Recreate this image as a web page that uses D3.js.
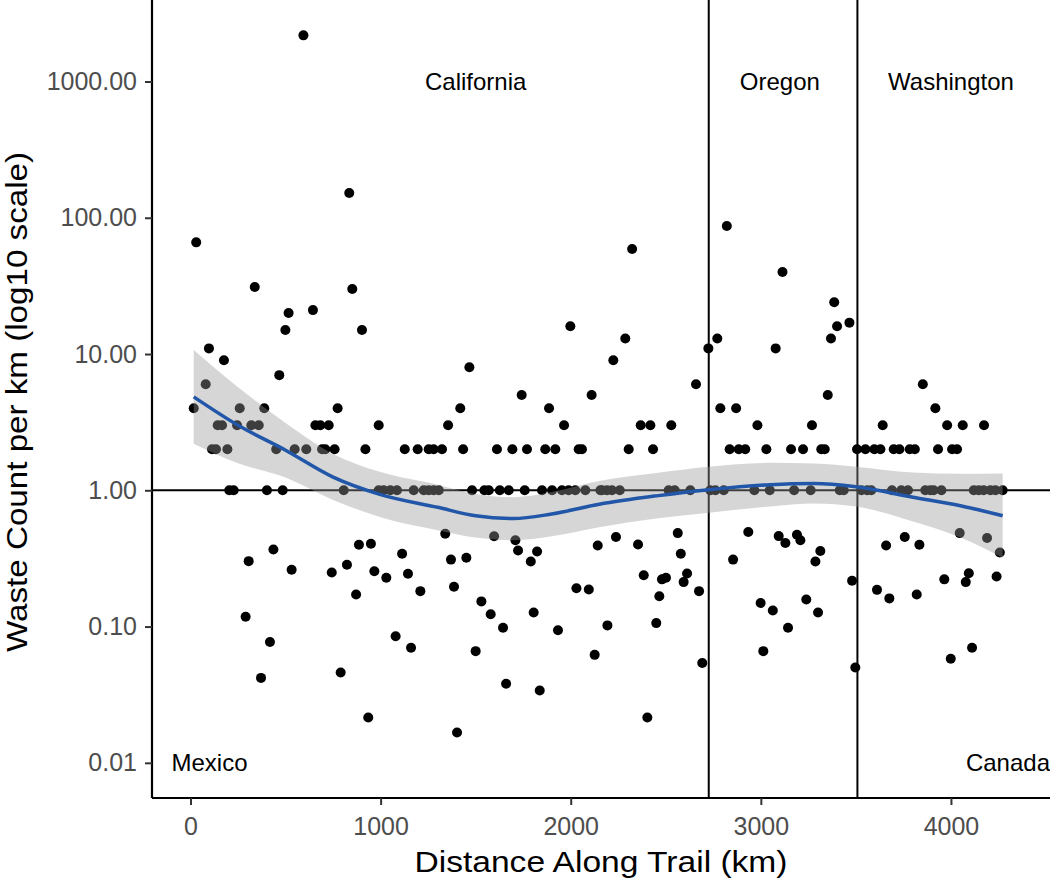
<!DOCTYPE html>
<html><head><meta charset="utf-8">
<script src="https://cdn.jsdelivr.net/npm/d3@7"></script>
<style>body{margin:0;background:#fff}svg{display:block}text{font-family:"Liberation Sans",Arial,Helvetica,sans-serif}</style>
</head><body>
<svg id="chart" width="1050" height="882"></svg>
<script>
// ---- data ----
const distance = [
  594,835,30,2323,338,851,2821,3114,3386,
  516,644,499,902,97,176,467,80,17,259,388,774,143,166,245,320,359,657,683,727,990,113,134,194,451,548,609,692,709,758,920,204,227,402,485,806,990,
  1998,1467,1742,2110,1419,1886,1355,1965,
  1127,1195,1253,1279,1323,1434,1612,1693,1770,1866,1919,2042,2059,
  1016,1051,1086,1174,1227,1253,1279,1306,1481,1546,1569,1627,1674,1758,1849,1902,1954,1989,2024,2077,2156,
  2287,2224,2724,2771,3078,2659,2787,2870,
  2368,2419,2529,2982,3269,
  2305,2433,2836,2884,2918,3029,3159,3222,3318,
  2165,2191,2217,2258,2515,2547,2629,2734,2761,2805,2966,3047,3175,3262,
  3401,3369,3466,3352,3852,3918,
  3641,3980,4062,4174,
  3336,3506,3550,3597,3629,3699,3729,3783,3810,3932,4006,4032,
  3415,3436,3529,3559,3581,3690,3739,3774,3865,3892,3909,3950,4120,4146,4172,4207,4234,4272,
  306,436,532,743,823,886,949,967,871,290,418,371,790,935,
  1340,1597,1709,1113,1370,1451,1723,1823,1790,2142,1030,1144,1209,1386,1530,1579,1644,1805,1933,2030,2095,1079,1160,1500,2126,1660,1837,1402,
  2238,2354,2563,2579,2384,2480,2501,2612,2594,2466,2675,2193,2450,2692,2403,
  2934,3094,3129,3190,3208,3313,3287,2854,2999,3063,3239,3301,3143,3013,
  3480,3497,3659,3757,3834,4046,4190,4257,3611,3676,3820,3965,4094,4078,4240,4111,3999
];
const wastePerKm = [
  2180,152,66,59,31,30,87,40,24,
  20,21,15,15,11,9,7,6,4,4,4,4,3,3,3,3,3,3,3,3,3,2,2,2,2,2,2,2,2,2,2,1,1,1,1,1,1,
  16,8,5,5,4,4,3,3,
  2,2,2,2,2,2,2,2,2,2,2,2,2,
  1,1,1,1,1,1,1,1,1,1,1,1,1,1,1,1,1,1,1,1,1,
  13,9,11,13,11,6,4,4,
  3,3,3,3,3,
  2,2,2,2,2,2,2,2,2,
  1,1,1,1,1,1,1,1,1,1,1,1,1,1,
  16,13,17,5,6,4,
  3,3,3,3,
  2,2,2,2,2,2,2,2,2,2,2,2,
  1,1,1,1,1,1,1,1,1,1,1,1,1,1,1,1,1,1,
  0.302,0.368,0.261,0.249,0.284,0.399,0.405,0.255,0.172,0.118,0.077,0.042,0.046,0.0215,
  0.48,0.46,0.43,0.342,0.31,0.32,0.362,0.356,0.30,0.394,0.228,0.244,0.182,0.196,0.153,0.123,0.098,0.127,0.094,0.191,0.187,0.085,0.070,0.066,0.062,0.038,0.034,0.0167,
  0.454,0.40,0.485,0.342,0.238,0.222,0.228,0.245,0.212,0.167,0.182,0.102,0.106,0.054,0.0215,
  0.494,0.461,0.41,0.472,0.43,0.358,0.30,0.31,0.149,0.131,0.158,0.127,0.098,0.066,
  0.217,0.050,0.394,0.454,0.399,0.485,0.446,0.35,0.186,0.161,0.172,0.222,0.246,0.212,0.233,0.070,0.058
];
// loess smooth and its confidence band
const smoothX   = [17, 250, 500, 750, 1000, 1300, 1500, 1700, 1900, 2150, 2450, 2726, 3050, 3280, 3500, 3800, 4050, 4272];
const smoothFit = [4.85, 3.0, 1.97, 1.25, 0.93, 0.75, 0.65, 0.62, 0.67, 0.79, 0.91, 1.01, 1.10, 1.12, 1.06, 0.89, 0.77, 0.65];
const smoothLo  = [2.2, 1.58, 1.24, 0.85, 0.635, 0.51, 0.45, 0.43, 0.46, 0.535, 0.62, 0.685, 0.76, 0.80, 0.76, 0.59, 0.45, 0.32];
const smoothHi  = [10.7, 5.7, 3.12, 1.85, 1.36, 1.10, 0.94, 0.89, 0.97, 1.17, 1.34, 1.49, 1.59, 1.57, 1.49, 1.35, 1.32, 1.33];

const xTicks = [0, 1000, 2000, 3000, 4000];
const yTicks = [0.01, 0.1, 1, 10, 100, 1000];
const yTickLabels = ["0.01", "0.10", "1.00", "10.00", "100.00", "1000.00"];
const stateBorders = [2726, 3508];
const referenceLevel = 1;
const regionNames = ["California", "Oregon", "Washington", "Mexico", "Canada"];
const regionX = [1500, 3100, 4000, 100, 4300];
const regionY = [1000, 1000, 1000, 0.01, 0.01];

// ---- layout ----
const L = 152, R = 1050, T = 0, B = 798;
const svg = d3.select("#chart");
const x = d3.scaleLinear().domain([-202.5, 4521]).range([L, R]);
const y = d3.scaleLog().domain([0.00552, 3963]).range([B, T]);

// reference lines
svg.append("line").attr("x1", L).attr("x2", R)
  .attr("y1", y(referenceLevel)).attr("y2", y(referenceLevel))
  .attr("stroke", "#000").attr("stroke-width", 2);
svg.selectAll("line.border").data(stateBorders).enter().append("line")
  .attr("class", "border")
  .attr("x1", d => x(d)).attr("x2", d => x(d)).attr("y1", T).attr("y2", B)
  .attr("stroke", "#000").attr("stroke-width", 2);

// points
const pts = distance.map((d, i) => ({d, v: wastePerKm[i]}));
svg.selectAll("circle.pt").data(pts).enter().append("circle")
  .attr("class", "pt").attr("cx", p => x(p.d)).attr("cy", p => y(p.v))
  .attr("r", 5).attr("fill", "#000");

// smooth band + line
const sm = smoothX.map((d, i) => ({d, f: smoothFit[i], lo: smoothLo[i], hi: smoothHi[i]}));
svg.append("path").datum(sm)
  .attr("d", d3.area().curve(d3.curveMonotoneX).x(p => x(p.d)).y0(p => y(p.lo)).y1(p => y(p.hi)))
  .attr("fill", "#999999").attr("fill-opacity", 0.4);
svg.append("path").datum(sm)
  .attr("d", d3.line().curve(d3.curveMonotoneX).x(p => x(p.d)).y(p => y(p.f)))
  .attr("fill", "none").attr("stroke", "#2156A8").attr("stroke-width", 3.5);

// region labels
svg.selectAll("text.region").data(regionNames).enter().append("text")
  .attr("class", "region")
  .attr("x", (d, i) => x(regionX[i])).attr("y", (d, i) => y(regionY[i]))
  .attr("dy", "0.35em").attr("text-anchor", "middle")
  .attr("font-size", 24).attr("fill", "#000").text(d => d);

// axes
const xAxis = svg.append("g").attr("transform", `translate(0,${B})`)
  .call(d3.axisBottom(x).tickValues(xTicks).tickFormat(d3.format("d")).tickSize(7).tickSizeOuter(0).tickPadding(12));
const yAxis = svg.append("g").attr("transform", `translate(${L},0)`)
  .call(d3.axisLeft(y).tickValues(yTicks).tickFormat((d, i) => yTickLabels[i]).tickSize(7).tickSizeOuter(0).tickPadding(8));
[xAxis, yAxis].forEach(g => {
  g.select(".domain").attr("stroke", "#000").attr("stroke-width", 2.2);
  g.selectAll(".tick line").attr("stroke", "#333").attr("stroke-width", 2);
  g.selectAll(".tick text").attr("fill", "#4d4d4d").attr("font-size", 25)
    .style("font-family", '"Liberation Sans",Arial,Helvetica,sans-serif');
});
xAxis.select(".domain").attr("d", `M${L},0H${R}`);
yAxis.select(".domain").attr("d", `M0,${T}V${B}`);

// titles
svg.append("text").attr("x", 601).attr("y", 872).attr("text-anchor", "middle")
  .attr("font-size", 29).attr("textLength", 373).attr("lengthAdjust", "spacingAndGlyphs")
  .attr("fill", "#000").text("Distance Along Trail (km)");
svg.append("text").attr("transform", "translate(27,402) rotate(-90)").attr("text-anchor", "middle")
  .attr("font-size", 29).attr("textLength", 500).attr("lengthAdjust", "spacingAndGlyphs")
  .attr("fill", "#000").text("Waste Count per km (log10 scale)");
</script>
</body></html>
